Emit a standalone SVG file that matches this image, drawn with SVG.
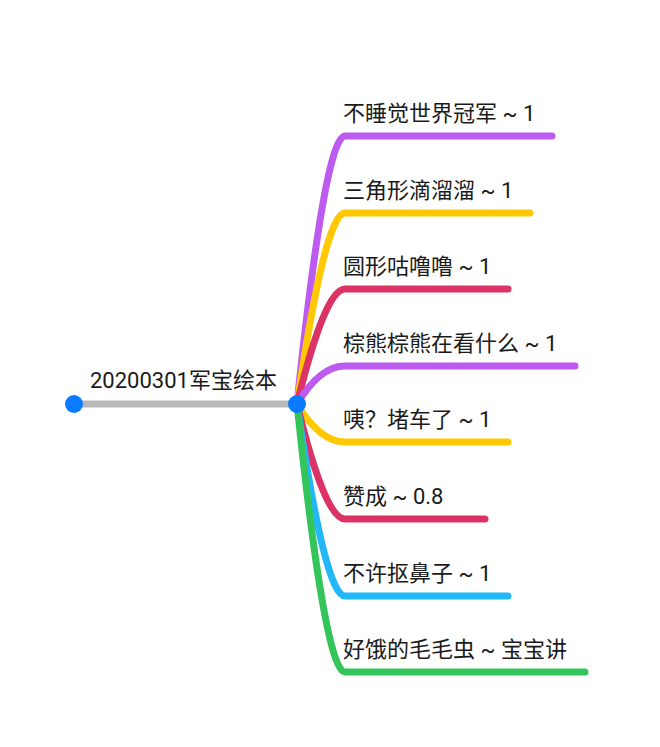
<svg xmlns="http://www.w3.org/2000/svg" width="660" height="747" viewBox="0 0 660 747">
<style>
.t{font-family:Roboto,"Noto Sans CJK SC",sans-serif;font-size:22px;fill:#1a1a1a}
.c{fill:none;stroke-width:7;stroke-linecap:round;stroke-linejoin:round}
.pu{stroke:#bd5af0}.ye{stroke:#ffc800}.pk{stroke:#dc3366}.bl{stroke:#22b8f8}.gr{stroke:#33c55a}
.dot{fill:#0a7aff}
</style>
<rect width="660" height="747" fill="#fff"/>
<g id="connectors">
<line x1="74" y1="404" x2="297" y2="404" stroke="#b9b9b9" stroke-width="7"/>
<path class="c pu" d="M297,404 Q325,136 345,136 L552,136"/>
<path class="c ye" d="M297,404 Q325,213 345,213 L530,213"/>
<path class="c pk" d="M297,404 Q325,289 345,289 L508,289"/>
<path class="c pu" d="M297,404 Q320,366 345,366 L575,366"/>
<path class="c ye" d="M297,404 Q320,442 345,442 L508,442"/>
<path class="c pk" d="M297,404 Q325,519 345,519 L485,519"/>
<path class="c bl" d="M297,404 Q325,596 345,596 L508,596"/>
<path class="c gr" d="M297,404 Q325,672 345,672 L585,672"/>
</g>
<g id="root">
<circle class="dot" cx="74" cy="404" r="9"/>
<text class="t" x="90" y="388">20200301军宝绘本</text>
</g>
<g id="hub"><circle class="dot" cx="297" cy="404" r="9"/></g>
<g id="n1"><text class="t" x="343" y="121">不睡觉世界冠军 ~ 1</text></g>
<g id="n2"><text class="t" x="343" y="198">三角形滴溜溜 ~ 1</text></g>
<g id="n3"><text class="t" x="343" y="274">圆形咕噜噜 ~ 1</text></g>
<g id="n4"><text class="t" x="343" y="351">棕熊棕熊在看什么 ~ 1</text></g>
<g id="n5"><text class="t" x="343" y="427">咦？堵车了 ~ 1</text></g>
<g id="n6"><text class="t" x="343" y="504">赞成 ~ 0.8</text></g>
<g id="n7"><text class="t" x="343" y="581">不许抠鼻子 ~ 1</text></g>
<g id="n8"><text class="t" x="343" y="657">好饿的毛毛虫 ~ 宝宝讲</text></g>
</svg>
